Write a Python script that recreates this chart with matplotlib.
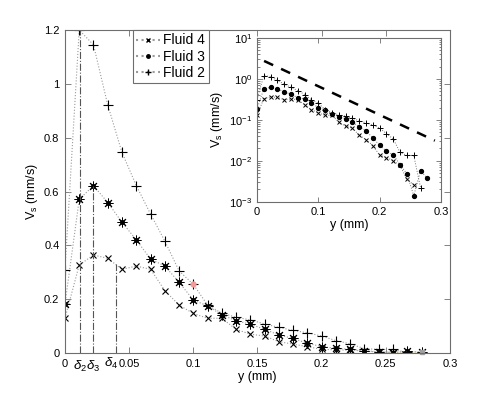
import numpy as np
import matplotlib
matplotlib.use('Agg')
import matplotlib.pyplot as plt

plt.rcParams['font.family'] = ['Liberation Sans', 'DejaVu Sans']
plt.rcParams['mathtext.fontset'] = 'custom'
plt.rcParams['mathtext.rm'] = 'Liberation Sans'
plt.rcParams['mathtext.it'] = 'Liberation Sans:italic'

# distance from wall (mm), same grid for all fluids
y_mm = [0.0, 0.0111, 0.0222, 0.0333, 0.0444, 0.0556, 0.0667, 0.0778, 0.0889, 0.1,
        0.1111, 0.1222, 0.1333, 0.1444, 0.1556, 0.1667, 0.1778, 0.1889, 0.2, 0.2111,
        0.2222, 0.2333, 0.2444, 0.2556, 0.2667, 0.2778]

# slip velocity Vs (mm/s)
fluid2 = [0.31, 1.20, 1.145, 0.922, 0.745, 0.622, 0.516, 0.416, 0.305, 0.255,
          0.178, 0.148, 0.133, 0.123, 0.108, 0.095, 0.084, 0.075, 0.063, 0.046,
          0.034, 0.016, 0.0135, 0.0135, 0.0022, np.nan]
fluid3 = [0.182, 0.571, 0.622, 0.559, 0.486, 0.42, 0.349, 0.323, 0.263, 0.197,
          0.175, 0.142, 0.12, 0.107, 0.088, 0.067, 0.054, 0.036, 0.024, 0.017,
          0.014, 0.008, 0.0048, 0.0014, 0.0057, 0.0037]
fluid4 = [0.129, 0.327, 0.364, 0.352, 0.311, 0.323, 0.311, 0.232, 0.178, 0.147,
          0.129, 0.129, 0.088, 0.07, 0.063, 0.042, 0.033, 0.0235, 0.0137, 0.012,
          0.010, 0.0077, 0.0035, 0.0026, np.nan, np.nan]

# boundary layer thicknesses and heights of the marker lines
delta_pos = [0.0117, 0.022, 0.0397]
delta_top = [1.20, 0.622, 0.329]
delta_lab = [r'$\delta_2$', r'$\delta_3$', r'$\delta_4$']

# highlighted point and end point
red_pt = (0.1, 0.255)
end_pt = (0.2778, 0.0)

# exponential reference line in the inset
ref_x = [0.0116, 0.29]
ref_v = [2.75, 0.031]

axis_col = '#6e6e6e'
line_col = '#9a9a9a'
asterisk = (8, 2, 0)   # MATLAB-like '*'

fig = plt.figure(figsize=(4.98, 3.97), dpi=100)
ax = fig.add_axes([0.1305, 0.1108, 0.7731, 0.8136])

ax.plot(y_mm, fluid4, ':', color=line_col, lw=0.8, marker='x', ms=5, mec='k', mew=0.8)
ax.plot(y_mm, fluid3, ':', color=line_col, lw=0.8, marker=asterisk, ms=7, mec='k', mew=0.7)
ax.plot(y_mm, fluid3, ' ', marker='o', ms=2.6, mec='k', mfc='k')
ax.plot(y_mm, fluid2, ':', color=line_col, lw=0.8, marker='+', ms=7, mec='k', mew=0.8)
ax.plot([red_pt[0]], [red_pt[1]], 'o', ms=3.5, mfc='#f39a9a', mec='#f39a9a')
ax.plot([0.2444, end_pt[0]], [0.004, 0.004], '-', color='#f3efd6', lw=1.5, zorder=1)
ax.plot([end_pt[0]], [end_pt[1] + 0.002], 's', ms=3.5, mfc='#a0a0a0', mec='#a0a0a0', clip_on=False)

for xp, top in zip(delta_pos, delta_top):
    ax.plot([xp, xp], [0, top], '-.', color='#555555', lw=0.8)
offsets = [(0.0, -0.022), (0.0, -0.022), (-0.0035, -0.012)]
for xp, lab, (dx, yy) in zip(delta_pos, delta_lab, offsets):
    ax.text(xp + dx, yy, lab, ha='center', va='top', fontsize=9.5)

ax.set_xlim(0, 0.3)
ax.set_ylim(0, 1.2)
ax.set_xticks([0, 0.05, 0.1, 0.15, 0.2, 0.25, 0.3])
ax.set_xticklabels(['0', '0.05', '0.1', '0.15', '0.2', '0.25', '0.3'])
ax.set_yticks([0, 0.2, 0.4, 0.6, 0.8, 1.0, 1.2])
ax.set_yticklabels(['0', '0.2', '0.4', '0.6', '0.8', '1', '1.2'])
ax.tick_params(direction='in', top=True, right=True, length=4, width=0.6,
               color=axis_col, labelsize=8, pad=4)
for s in ax.spines.values():
    s.set_color(axis_col)
    s.set_linewidth(0.8)
ax.set_xlabel('y (mm)', fontsize=9, labelpad=2)
ax.set_ylabel(r'V$_{\rm s}$ (mm/s)', fontsize=9, labelpad=3)

# legend uses the small inset-style markers
h4, = ax.plot([], [], ':', color=line_col, marker='x', ms=3, mec='k')
h3, = ax.plot([], [], ':', color=line_col, marker='.', ms=5, mec='k', mfc='k')
h2, = ax.plot([], [], ':', color=line_col, marker='+', ms=4, mec='k')
leg = ax.legend([h4, h3, h2], ['Fluid 4', 'Fluid 3', 'Fluid 2'], loc='upper left',
                bbox_to_anchor=(0.176, 1.0), borderaxespad=0, fontsize=10,
                fancybox=False, framealpha=1, handlelength=1.7, handletextpad=0.25,
                borderpad=0.25, labelspacing=0.15)
leg.get_frame().set_edgecolor(axis_col)
leg.get_frame().set_linewidth(0.8)

# inset, log scale
ins = fig.add_axes([0.516, 0.492, 0.3695, 0.4123])
ins.plot(ref_x, ref_v, '--', color='k', lw=1.8, dashes=(4, 3.5))
ins.plot(y_mm, fluid4, ':', color='#777777', lw=0.7, marker='x', ms=3, mec='k', mew=0.7)
ins.plot(y_mm, fluid3, ':', color='#777777', lw=0.7, marker='o', ms=2.8, mec='k', mfc='k')
ins.plot(y_mm, fluid2, ':', color='#777777', lw=0.7, marker='+', ms=4, mec='k', mew=0.7)
ins.set_yscale('log')
ins.set_xlim(0, 0.3)
ins.set_ylim(1e-3, 1e1)
ins.set_xticks([0, 0.1, 0.2, 0.3])
ins.set_xticklabels(['0', '0.1', '0.2', '0.3'])
ins.set_yticks([1e-3, 1e-2, 1e-1, 1e0, 1e1])
ins.set_yticklabels([r'10$^{-3}$', r'10$^{-2}$', r'10$^{-1}$', r'10$^{0}$', r'10$^{1}$'])
ins.tick_params(which='both', direction='in', top=True, right=True, color=axis_col,
                width=0.6, labelsize=8)
ins.tick_params(which='major', length=3.5)
ins.tick_params(which='minor', length=1.8)
for s in ins.spines.values():
    s.set_color(axis_col)
    s.set_linewidth(0.8)
ins.set_xlabel('y (mm)', fontsize=9, labelpad=2)
ins.set_ylabel(r'V$_{\rm s}$ (mm/s)', fontsize=9, labelpad=3)

fig.savefig('out.png', dpi=100)
